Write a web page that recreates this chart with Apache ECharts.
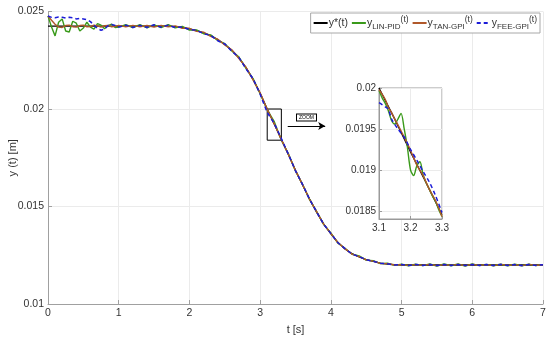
<!DOCTYPE html>
<html>
<head>
<meta charset="utf-8">
<script src="https://cdn.jsdelivr.net/npm/echarts@6/dist/echarts.min.js"></script>
<style>html,body{margin:0;padding:0;background:#fff}#c{width:550px;height:339px}</style>
</head>
<body>
<div id="c"></div>
<script>
// ---- data ----
var xTicks = [0, 1, 2, 3, 4, 5, 6, 7];
var yTicks = [0.01, 0.015, 0.02, 0.025];

var tRef = [0,1.7,1.8,1.9,2,2.1,2.2,2.3,2.4,2.5,2.6,2.7,2.8,2.9,3,3.1,3.2,3.3,3.4,3.5,3.6,3.7,3.8,3.9,4,4.1,4.2,4.3,4.4,4.5,4.6,4.7,4.8,4.9,5,7];
var yRef = [0.02425,0.02425,0.02422,0.02418,0.02411,0.02402,0.02391,0.02376,0.02356,0.02331,0.02301,0.02262,0.02212,0.02152,0.02081,0.02000,0.01922,0.01845,0.01765,0.01686,0.01610,0.01538,0.01470,0.01410,0.01360,0.01316,0.01282,0.01258,0.01241,0.01228,0.01218,0.01210,0.01205,0.01202,0.01200,0.01200];

var tMain = [0,0.05,0.1,0.15,0.2,0.25,0.3,0.35,0.4,0.45,0.5,0.55,0.6,0.65,0.7,0.75,0.8,0.85,0.9,0.95,1.0,
  1.1,1.2,1.3,1.4,1.5,1.6,1.7,1.8,1.9,
  2.0,2.1,2.2,2.3,2.4,2.5,2.6,2.7,2.8,2.9,
  3.0,3.1,3.2,3.3,3.4,3.5,3.6,3.7,3.8,3.9,
  4.0,4.1,4.2,4.3,4.4,4.5,4.6,4.7,4.8,4.9,
  5.0,5.1,5.2,5.3,5.4,5.5,5.6,5.7,5.8,5.9,
  6.0,6.1,6.2,6.3,6.4,6.5,6.6,6.7,6.8,6.9,7.0];

var yLin = [0.02477,0.02420,0.02375,0.02445,0.02462,0.02400,0.02395,0.02450,0.02440,0.02400,0.02415,0.02445,0.02420,0.02410,0.02438,0.02430,0.02412,0.02428,0.02435,0.02418,0.02420,
  0.02432,0.02418,0.02433,0.02416,0.02431,0.02418,0.02433,0.02416,0.02424,
  0.02405,0.02406,0.02386,0.02380,0.02352,0.02335,0.02298,0.02266,0.02208,0.02156,
  0.02078,0.01996,0.01935,0.01840,0.01770,0.01682,0.01614,0.01535,0.01474,0.01407,
  0.01364,0.01312,0.01286,0.01255,0.01247,0.01225,0.01222,0.01207,0.01209,0.01198,
  0.01204,0.01196,0.01204,0.01197,0.01205,0.01194,0.01206,0.01196,0.01205,0.01194,
  0.01206,0.01197,0.01203,0.01196,0.01204,0.01196,0.01204,0.01196,0.01204,0.01197,0.01202];

var yTan = [0.02477,0.02455,0.02435,0.02420,0.02418,0.02428,0.02430,0.02422,0.02420,0.02428,0.02430,0.02421,0.02423,0.02430,0.02426,0.02420,0.02427,0.02429,0.02421,0.02424,0.02429,
  0.02421,0.02429,0.02421,0.02428,0.02420,0.02429,0.02421,0.02426,0.02414,
  0.02414,0.02398,0.02394,0.02372,0.02358,0.02328,0.02303,0.02259,0.02214,0.02149,
  0.02083,0.01998,0.01924,0.01843,0.01767,0.01684,0.01612,0.01536,0.01472,0.01408,
  0.01362,0.01314,0.01284,0.01256,0.01243,0.01226,0.01220,0.01208,0.01207,0.01200,
  0.01202,0.01198,0.01202,0.01198,0.01203,0.01197,0.01202,0.01198,0.01203,0.01197,
  0.01203,0.01198,0.01202,0.01197,0.01203,0.01198,0.01202,0.01197,0.01203,0.01198,0.01201];

var yFee = [0.02477,0.02470,0.02468,0.02472,0.02470,0.02466,0.02470,0.02468,0.02462,0.02465,0.02462,0.02458,0.02448,0.02430,0.02412,0.02404,0.02410,0.02428,0.02434,0.02428,0.02420,
  0.02430,0.02418,0.02429,0.02418,0.02432,0.02419,0.02430,0.02418,0.02420,
  0.02408,0.02404,0.02386,0.02378,0.02350,0.02334,0.02296,0.02265,0.02206,0.02155,
  0.02076,0.01982,0.01926,0.01848,0.01768,0.01683,0.01613,0.01536,0.01472,0.01408,
  0.01362,0.01314,0.01284,0.01256,0.01243,0.01227,0.01219,0.01209,0.01206,0.01200,
  0.01203,0.01197,0.01203,0.01198,0.01202,0.01197,0.01203,0.01198,0.01202,0.01197,
  0.01203,0.01198,0.01202,0.01197,0.01203,0.01198,0.01202,0.01197,0.01203,0.01198,0.01201];

// inset (zoom) data
var tInRef = [3.1, 3.15, 3.2, 3.25, 3.3];
var yInRef = [0.02000, 0.01962, 0.01922, 0.01884, 0.01845];
var tInLin = [3.10,3.11,3.12,3.13,3.14,3.15,3.16,3.17,3.18,3.19,3.20,3.21,3.22,3.23,3.24,3.25,3.26,3.27,3.28,3.29,3.30];
var yInLin = [0.01997,0.01988,0.01981,0.01972,0.01960,0.01956,0.01962,0.01969,0.01950,0.01928,0.01900,0.01893,0.01905,0.01910,0.01894,0.01884,0.01876,0.01868,0.01861,0.01851,0.01843];
var tInTan = [3.10,3.12,3.13,3.14,3.15,3.16,3.18,3.20,3.22,3.24,3.26,3.28,3.30];
var yInTan = [0.01998,0.01986,0.01976,0.01970,0.01962,0.01955,0.01940,0.01924,0.01906,0.01893,0.01876,0.01862,0.01843];
var tInFee = [3.10,3.12,3.13,3.14,3.16,3.18,3.20,3.22,3.24,3.26,3.28,3.30];
var yInFee = [0.01982,0.01977,0.01974,0.01962,0.01950,0.01940,0.01925,0.01912,0.01898,0.01885,0.01868,0.01848];

var zoomBox = [[3.1, 0.02], [3.3, 0.0184]];
var zoomArrow = [[3.39, 0.01913], [3.92, 0.01913]];

var names = ['ref', 'lin', 'tan', 'fee'];
var colors = ['#000000', '#3a9a1a', '#b0582a', '#1c1cd8'];

function pairs(t, y) { return t.map(function (v, i) { return [v, y[i]]; }); }

var FONT = 'Liberation Sans, Arial, sans-serif';
var chart = echarts.init(document.getElementById('c'), null, { renderer: 'canvas' });

var axisTxt = { color: '#333', fontFamily: FONT, fontSize: 10.5 };

var option = {
  animation: false,
  backgroundColor: '#fff',
  textStyle: { fontFamily: FONT },
  grid: [
    { left: 48, top: 11.5, width: 495, height: 292.5, show: false, outerBoundsMode: 'none', containLabel: false },
    { left: 379, top: 88, width: 63, height: 131, show: true, backgroundColor: '#fff', borderColor: '#9a9a9a', borderWidth: 1, z: 5, outerBoundsMode: 'none', containLabel: false }
  ],
  xAxis: [
    {
      type: 'value', gridIndex: 0, min: xTicks[0], max: xTicks[xTicks.length - 1], interval: 1,
      name: 't [s]', nameLocation: 'middle', nameGap: 20, nameMoveOverlap: false,
      nameTextStyle: { color: '#333', fontSize: 11, fontFamily: FONT },
      axisLine: { show: true, lineStyle: { color: '#a0a0a0' } },
      axisTick: { show: true, inside: true, length: 4, lineStyle: { color: '#a0a0a0' } },
      axisLabel: Object.assign({ margin: 4 }, axisTxt),
      splitLine: { show: true, lineStyle: { color: '#ebebeb' } }
    },
    {
      type: 'value', gridIndex: 1, min: 3.1, max: 3.3, interval: 0.1, z: 6,
      axisLine: { show: true, lineStyle: { color: '#9a9a9a' } },
      axisTick: { show: true, inside: true, length: 3, lineStyle: { color: '#9a9a9a' } },
      axisLabel: Object.assign({ margin: 4 }, axisTxt, { fontSize: 10 }),
      splitLine: { show: true, lineStyle: { color: '#ebebeb' } }
    }
  ],
  yAxis: [
    {
      type: 'value', gridIndex: 0, min: yTicks[0], max: yTicks[yTicks.length - 1], interval: 0.005,
      name: 'y (t) [m]', nameLocation: 'middle', nameGap: 30, nameRotate: 90, nameMoveOverlap: false,
      nameTextStyle: { color: '#333', fontSize: 11, fontFamily: FONT },
      axisLine: { show: true, lineStyle: { color: '#a0a0a0' } },
      axisTick: { show: true, inside: true, length: 4, lineStyle: { color: '#a0a0a0' } },
      axisLabel: Object.assign({ margin: 4 }, axisTxt),
      splitLine: { show: true, lineStyle: { color: '#ebebeb' } }
    },
    {
      type: 'value', gridIndex: 1, min: 0.0184, max: 0.02, splitNumber: 3, z: 6,
      axisLine: { show: true, lineStyle: { color: '#9a9a9a' } },
      axisTick: { show: true, inside: true, length: 3, lineStyle: { color: '#9a9a9a' } },
      axisLabel: Object.assign({ margin: 3, showMinLabel: false }, axisTxt, { fontSize: 10 }),
      splitLine: { show: true, lineStyle: { color: '#ebebeb' } }
    }
  ],
  legend: {
    data: names,
    right: 10, top: 13,
    itemWidth: 14, itemHeight: 8, itemGap: 3,
    padding: [2, 3, 2, 2],
    itemStyle: { color: 'rgba(0,0,0,0)', borderWidth: 0, opacity: 0 },
    backgroundColor: '#fff', borderColor: '#a8a8a8', borderWidth: 1,
    formatter: function (n) {
      if (n === 'ref') return '{n|y*(t)}';
      var sub = { lin: 'LIN-PID', tan: 'TAN-GPI', fee: 'FEE-GPI' }[n];
      return '{n|y}{s|' + sub + '}{p|(t)}';
    },
    textStyle: {
      color: '#333', fontFamily: FONT, fontSize: 10, padding: [0, 0, 0, -4],
      rich: {
        n: { fontSize: 10.5, lineHeight: 16, verticalAlign: 'middle', fontFamily: FONT, color: '#333' },
        s: { fontSize: 8, lineHeight: 8, verticalAlign: 'bottom', fontFamily: FONT, color: '#333' },
        p: { fontSize: 8.5, lineHeight: 9, verticalAlign: 'top', fontFamily: FONT, color: '#333' }
      }
    }
  },
  graphic: [
    {
      type: 'text', left: 296, top: 113.5, z: 10,
      style: { text: 'ZOOM', fontSize: 5, fontFamily: FONT, fill: '#000',
        borderColor: '#000', borderWidth: 1, padding: [0.5, 2], backgroundColor: '#fff' }
    }
  ],
  series: [
    {
      name: 'ref', type: 'line', xAxisIndex: 0, yAxisIndex: 0, data: pairs(tRef, yRef),
      symbol: 'none', showSymbol: false, lineStyle: { color: colors[0], width: 1.3 }, itemStyle: { color: colors[0] }, z: 2,
      markArea: {
        silent: true, itemStyle: { color: 'rgba(0,0,0,0)', borderColor: '#000', borderWidth: 1 }, label: { show: false },
        data: [[{ coord: zoomBox[0] }, { coord: zoomBox[1] }]]
      },
      markLine: {
        silent: true, symbol: ['none', 'arrow'], symbolSize: [6, 7], label: { show: false },
        lineStyle: { color: '#000', type: 'solid', width: 1 },
        data: [[{ coord: zoomArrow[0] }, { coord: zoomArrow[1] }]]
      }
    },
    { name: 'lin', type: 'line', xAxisIndex: 0, yAxisIndex: 0, data: pairs(tMain, yLin),
      symbol: 'none', lineStyle: { color: colors[1], width: 1.4 }, itemStyle: { color: colors[1] }, z: 3 },
    { name: 'tan', type: 'line', xAxisIndex: 0, yAxisIndex: 0, data: pairs(tMain, yTan),
      symbol: 'none', lineStyle: { color: colors[2], width: 1.4 }, itemStyle: { color: colors[2] }, z: 4 },
    { name: 'fee', type: 'line', xAxisIndex: 0, yAxisIndex: 0, data: pairs(tMain, yFee),
      symbol: 'none', lineStyle: { color: colors[3], width: 1.5, type: [4, 3] }, itemStyle: { color: colors[3] }, z: 5 },

    { name: 'ref', type: 'line', xAxisIndex: 1, yAxisIndex: 1, data: pairs(tInRef, yInRef),
      symbol: 'none', lineStyle: { color: colors[0], width: 1.3 }, z: 7 },
    { name: 'lin', type: 'line', xAxisIndex: 1, yAxisIndex: 1, data: pairs(tInLin, yInLin), smooth: 0.3,
      symbol: 'none', lineStyle: { color: colors[1], width: 1.4 }, z: 8 },
    { name: 'tan', type: 'line', xAxisIndex: 1, yAxisIndex: 1, data: pairs(tInTan, yInTan), smooth: 0.3,
      symbol: 'none', lineStyle: { color: colors[2], width: 1.4 }, z: 9 },
    { name: 'fee', type: 'line', xAxisIndex: 1, yAxisIndex: 1, data: pairs(tInFee, yInFee), smooth: 0.3,
      symbol: 'none', lineStyle: { color: colors[3], width: 1.5, type: [4, 3] }, z: 10 }
  ]
};
chart.setOption(option);
</script>
</body>
</html>
